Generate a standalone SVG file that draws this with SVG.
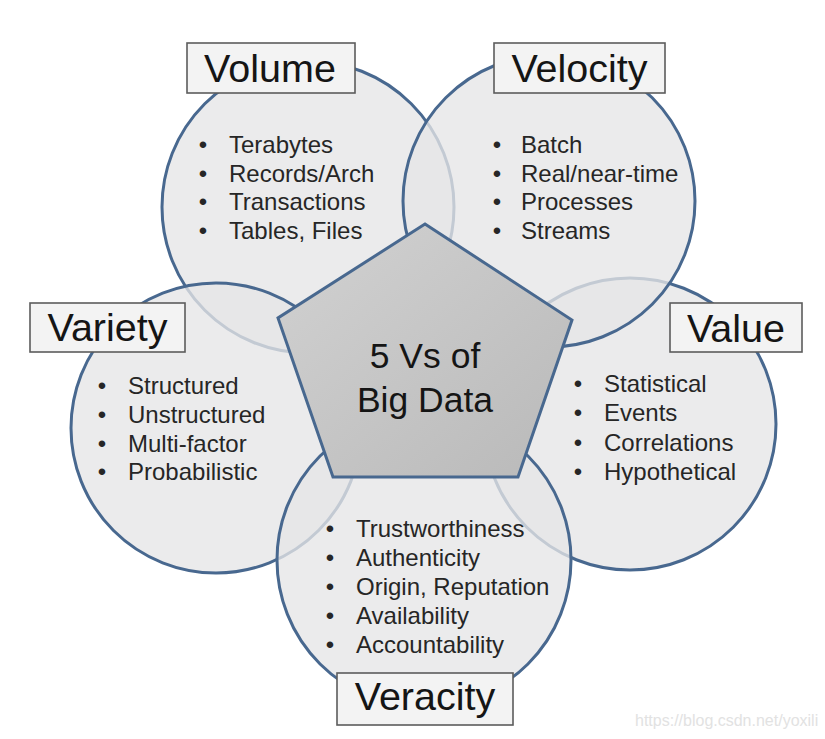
<svg xmlns="http://www.w3.org/2000/svg" width="825" height="739" viewBox="0 0 825 739">
<defs>
<linearGradient id="pent" x1="0" y1="0" x2="1" y2="1">
<stop offset="0" stop-color="#d2d2d2"/>
<stop offset="1" stop-color="#b9b9b9"/>
</linearGradient>
<style>
.circ{fill:#e6e6e7;fill-opacity:0.78;stroke:#48688f;stroke-width:3}
.box{fill:#f3f3f3;stroke:#5c5c5c;stroke-width:1.6}
.lab{font-family:"Liberation Sans",Arial,sans-serif;font-size:39.5px;fill:#151515;text-anchor:middle}
.it{font-family:"Liberation Sans",Arial,sans-serif;font-size:24px;fill:#262626}
.bul{font-family:"Liberation Sans",Arial,sans-serif;font-size:24px;fill:#262626;text-anchor:middle}
.ctr{font-family:"Liberation Sans",Arial,sans-serif;font-size:35.5px;fill:#151515;text-anchor:middle}
.wm{font-family:"Liberation Sans",Arial,sans-serif;font-size:16px;fill:#e2e2e2}
</style>
</defs>
<rect x="0" y="0" width="825" height="739" fill="#ffffff"/>

<g id="value">
<circle class="circ" cx="630" cy="424" r="146"/>
<rect class="box" x="670" y="303" width="132" height="49"/>
<text class="lab" x="736" y="342">Value</text>
<g>
<text class="bul" x="578" y="392">•</text><text class="it" x="604" y="392">Statistical</text>
<text class="bul" x="578" y="421">•</text><text class="it" x="604" y="421">Events</text>
<text class="bul" x="578" y="451">•</text><text class="it" x="604" y="451">Correlations</text>
<text class="bul" x="578" y="480">•</text><text class="it" x="604" y="480">Hypothetical</text>
</g>
</g>

<g id="volume">
<circle class="circ" cx="308" cy="207" r="146"/>
<rect class="box" x="187" y="43" width="168" height="50"/>
<text class="lab" x="270" y="82">Volume</text>
<g>
<text class="bul" x="203" y="153">•</text><text class="it" x="229" y="153">Terabytes</text>
<text class="bul" x="203" y="182">•</text><text class="it" x="229" y="182">Records/Arch</text>
<text class="bul" x="203" y="210">•</text><text class="it" x="229" y="210">Transactions</text>
<text class="bul" x="203" y="239">•</text><text class="it" x="229" y="239">Tables, Files</text>
</g>
</g>

<g id="velocity">
<circle class="circ" cx="549" cy="201" r="146"/>
<rect class="box" x="494" y="43" width="171" height="50"/>
<text class="lab" x="579.5" y="82">Velocity</text>
<g>
<text class="bul" x="497" y="153">•</text><text class="it" x="521" y="153">Batch</text>
<text class="bul" x="497" y="182">•</text><text class="it" x="521" y="182">Real/near-time</text>
<text class="bul" x="497" y="210">•</text><text class="it" x="521" y="210">Processes</text>
<text class="bul" x="497" y="239">•</text><text class="it" x="521" y="239">Streams</text>
</g>
</g>

<g id="variety">
<circle class="circ" cx="216" cy="428" r="145"/>
<rect class="box" x="30" y="303" width="155" height="49"/>
<text class="lab" x="107.5" y="341">Variety</text>
<g>
<text class="bul" x="102" y="394">•</text><text class="it" x="128" y="394">Structured</text>
<text class="bul" x="102" y="423">•</text><text class="it" x="128" y="423">Unstructured</text>
<text class="bul" x="102" y="452">•</text><text class="it" x="128" y="452">Multi-factor</text>
<text class="bul" x="102" y="480">•</text><text class="it" x="128" y="480">Probabilistic</text>
</g>
</g>

<g id="veracity">
<circle class="circ" cx="424" cy="560" r="147"/>
<rect class="box" x="337" y="673" width="176" height="52"/>
<text class="lab" x="425" y="710">Veracity</text>
<g>
<text class="bul" x="330" y="537">•</text><text class="it" x="356" y="537">Trustworthiness</text>
<text class="bul" x="330" y="566">•</text><text class="it" x="356" y="566">Authenticity</text>
<text class="bul" x="330" y="595">•</text><text class="it" x="356" y="595">Origin, Reputation</text>
<text class="bul" x="330" y="624">•</text><text class="it" x="356" y="624">Availability</text>
<text class="bul" x="330" y="653">•</text><text class="it" x="356" y="653">Accountability</text>
</g>
</g>

<g id="center">
<polygon points="425,224 572,320 518,477 333,477 278,318" fill="url(#pent)" stroke="#48688f" stroke-width="3" stroke-linejoin="miter"/>
<text class="ctr" x="425" y="368">5 Vs of</text>
<text class="ctr" x="425" y="412">Big Data</text>
</g>

<g id="connectors"/>

<text class="wm" x="635" y="726">https://blog.csdn.net/yoxili</text>
</svg>
